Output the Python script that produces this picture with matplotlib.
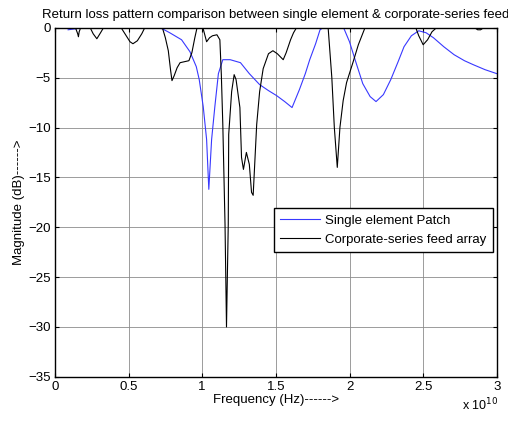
import matplotlib
matplotlib.use('Agg')
import matplotlib.pyplot as plt

# frequency in units of 1e10 Hz, return loss in dB
single_f = [0.09, 0.15, 0.2, 0.3, 0.5, 0.7, 0.73, 0.78, 0.86, 0.917, 0.96, 0.98, 1.007,
            1.03, 1.045, 1.064, 1.086, 1.11, 1.14, 1.19, 1.26, 1.32, 1.39, 1.45, 1.505,
            1.56, 1.61, 1.66, 1.70, 1.73, 1.77, 1.80, 1.82, 1.89, 1.96, 2.00, 2.04, 2.09,
            2.14, 2.18, 2.23, 2.28, 2.33, 2.37, 2.42, 2.47, 2.52, 2.57, 2.64, 2.71, 2.78,
            2.84, 2.92, 3.0]
single_db = [-0.2, -0.08, -0.02, 0.0, 0.0, -0.02, -0.1, -0.5, -1.2, -2.4, -3.9, -5.2, -7.9,
             -11.2, -16.2, -11.2, -7.9, -4.6, -3.2, -3.2, -3.5, -4.6, -5.7, -6.3, -6.8,
             -7.4, -8.0, -6.2, -4.6, -3.2, -1.6, -0.2, 0.0, 0.0, 0.0, -1.4, -3.3, -5.6,
             -6.9, -7.4, -6.7, -5.2, -3.4, -1.9, -0.8, -0.3, -0.5, -1.0, -1.9, -2.7, -3.3,
             -3.7, -4.2, -4.6]

array_f = [0.0, 0.14, 0.155, 0.16, 0.165, 0.175, 0.24, 0.26, 0.285, 0.31, 0.33, 0.45, 0.48,
           0.51, 0.53, 0.56, 0.59, 0.61, 0.73, 0.75, 0.77, 0.785, 0.795, 0.81, 0.83, 0.85,
           0.88, 0.91, 0.93, 0.95, 0.965, 1.005, 1.03, 1.05, 1.07, 1.10, 1.12, 1.13, 1.14,
           1.155, 1.165, 1.177, 1.18, 1.20, 1.217, 1.23, 1.256, 1.267, 1.28, 1.30, 1.32,
           1.335, 1.346, 1.37, 1.39, 1.414, 1.45, 1.48, 1.51, 1.55, 1.57, 1.60, 1.62, 1.64,
           1.855, 1.88, 1.897, 1.917, 1.935, 1.957, 1.98, 2.025, 2.06, 2.105, 2.45, 2.47,
           2.50, 2.53, 2.56, 2.59, 2.85, 2.87, 2.89, 2.91, 3.0]
array_db = [0.0, 0.0, -0.6, -0.9, -0.4, 0.0, 0.0, -0.6, -1.1, -0.5, 0.0, 0.0, -0.7,
            -1.4, -1.6, -1.3, -0.6, 0.0, 0.0, -1.0, -2.3, -4.2, -5.3, -4.8, -4.0, -3.5,
            -3.4, -3.3, -2.5, -1.0, 0.0, 0.0, -1.4, -1.0, -0.8, -0.7, -1.2, -4.7, -9.7,
            -19.7, -30.0, -19.7, -10.7, -6.4, -4.7, -5.2, -8.0, -13.0, -14.2, -12.5, -13.7,
            -16.5, -16.8, -9.7, -6.4, -4.1, -2.6, -2.3, -2.6, -3.2, -2.5, -1.2, -0.5, 0.0,
            0.0, -5.0, -10.0, -14.0, -10.0, -7.3, -5.5, -3.4, -1.7, 0.0, 0.0, -0.8,
            -1.7, -1.2, -0.4, 0.0, 0.0, -0.2, -0.2, 0.0, 0.0]

x_ticks = [0, 0.5, 1, 1.5, 2, 2.5, 3]
x_tick_labels = ['0', '0.5', '1', '1.5', '2', '2.5', '3']
y_ticks = [0, -5, -10, -15, -20, -25, -30, -35]

plt.rcParams['font.family'] = ['Liberation Sans', 'DejaVu Sans']

fig = plt.figure(figsize=(5.08, 4.21), dpi=100)
ax = fig.add_axes([0.108, 0.105, 0.870, 0.829])

ax.plot(single_f, single_db, color='#3838ff', linewidth=0.8, label='Single element Patch')
ax.plot(array_f, array_db, color='black', linewidth=0.8, label='Corporate-series feed array')

ax.set_xlim(0, 3)
ax.set_ylim(-35, 0)
ax.set_xticks(x_ticks)
ax.set_xticklabels(x_tick_labels)
ax.set_yticks(y_ticks)
ax.grid(True, color='#8c8c8c', linewidth=0.6, linestyle='-')
ax.set_axisbelow(True)
ax.tick_params(direction='in', length=3, width=0.8, top=True, right=True,
               labelsize=9.5, pad=3)
for sp in ax.spines.values():
    sp.set_linewidth(1.0)

ax.set_title('Return loss pattern comparison between single element & corporate-series feed',
             fontsize=9.5, pad=7)
ax.set_xlabel('Frequency (Hz)------>', fontsize=9.5, labelpad=1)
ax.set_ylabel('Magnitude (dB)------>', fontsize=9.5, labelpad=2)
fig.text(0.909, 0.026, r'x 10$^{10}$', fontsize=9, ha='left', va='baseline')

leg = ax.legend(loc='upper right', bbox_to_anchor=(0.991, 0.484), fontsize=9.5,
                fancybox=False, framealpha=1, edgecolor='black', handlelength=3.0,
                handletextpad=0.4, borderpad=0.5, labelspacing=0.5, borderaxespad=0)
leg.get_frame().set_linewidth(1.0)

fig.savefig('out.png', dpi=100)
